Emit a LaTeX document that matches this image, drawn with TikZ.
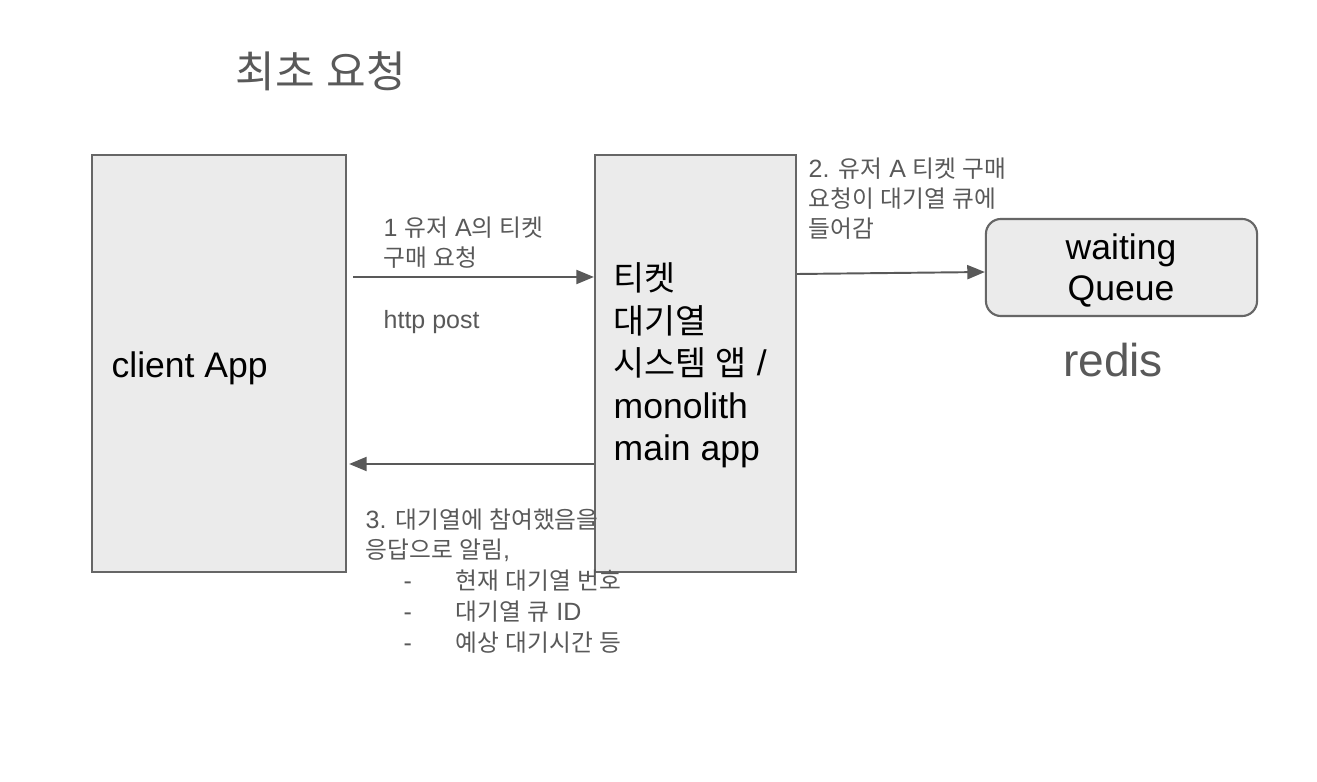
\documentclass[tikz,border=0pt]{standalone}
\usepackage{fontspec}
\setmainfont{Liberation Sans}
\newfontfamily\krfont[Scale=0.95,WordSpace=1.2]{Noto Sans CJK KR}
\newcommand{\ko}[1]{{\krfont #1}}
\usetikzlibrary{arrows.meta}
\definecolor{boxfill}{HTML}{EBEBEB}
\definecolor{boxline}{HTML}{666666}
\definecolor{labelgray}{HTML}{595959}

\begin{document}
\begin{tikzpicture}[x=0.01cm,y=-0.01cm,
    box/.style={draw=boxline,fill=boxfill,line width=0.6pt,inner sep=0pt},
    boxtext/.style={font=\fontsize{10.1}{12.1}\selectfont,text=black,inner sep=0pt,anchor=base west,align=left},
    note/.style={font=\fontsize{7.1}{8.55}\selectfont,text=labelgray,align=left,inner sep=0pt,anchor=base west},
    flow/.style={draw=labelgray,line width=0.55pt,-{Triangle[length=5pt,width=4pt]}}]
  \useasboundingbox (0,0) rectangle (1317,782);
  \fill[white] (0,0) rectangle (1317,782);
  % title
  \node[anchor=base west,inner sep=0pt,text=labelgray,font=\fontsize{12.9}{15}\selectfont] (title) at (235,88) {\ko{최초 요청}};
  % boxes
  \node[box,minimum width=2.54cm,minimum height=4.17cm] (cl) at (219,363.5) {};
  \node[box,minimum width=2.01cm,minimum height=4.17cm] (sys) at (695.5,363.5) {};
  \node[box,rounded corners=0.15cm,minimum width=2.71cm,minimum height=0.97cm] (queue) at (1121.5,267.5) {};
  \node[boxtext] (cltext) at (111,378) {client App};
  \node[boxtext] (systext) at (613,461)
    {\ko{티켓}\\\ko{대기열}\\\ko{시스템 앱} /\\monolith\\main app};
  \node[boxtext,anchor=base,align=center,font=\fontsize{10.1}{11.7}\selectfont] (qtext) at (1121,301) {waiting\\Queue};
  \node[anchor=base,inner sep=0pt,text=labelgray,font=\fontsize{13.1}{15}\selectfont] (redis) at (1113,377) {redis};
  % connectors
  \draw[flow] ([xshift=0.06cm]cl.east |- 0,277) -- (sys.west |- 0,277);
  \draw[flow] (sys.east |- 0,274) -- (queue.west |- 0,272);
  \draw[flow] (sys.west |- 0,464) -- ([xshift=0.02cm]cl.east |- 0,464);
  % labels
  \node[note] (req) at (383,267) {1 \ko{유저} A\ko{의 티켓}\\\ko{구매 요청}};
  \node[note] (http) at (383,329) {http post};
  \node[note] (enq) at (808,238) {2. \ko{유저} A \ko{티켓 구매}\\\ko{요청이 대기열 큐에}\\\ko{들어감}};
  \node[note] (resp) at (365,559) {3. \ko{대기열에 참여했음을}\\\ko{응답으로 알림},};
  \node[note] (item1) at (403,590) {\makebox[0.52cm][l]{-}\ko{현재 대기열 번호}};
  \node[note] (item2) at (403,621) {\makebox[0.52cm][l]{-}\ko{대기열 큐} ID};
  \node[note] (item3) at (403,652) {\makebox[0.52cm][l]{-}\ko{예상 대기시간 등}};
\end{tikzpicture}
\end{document}
